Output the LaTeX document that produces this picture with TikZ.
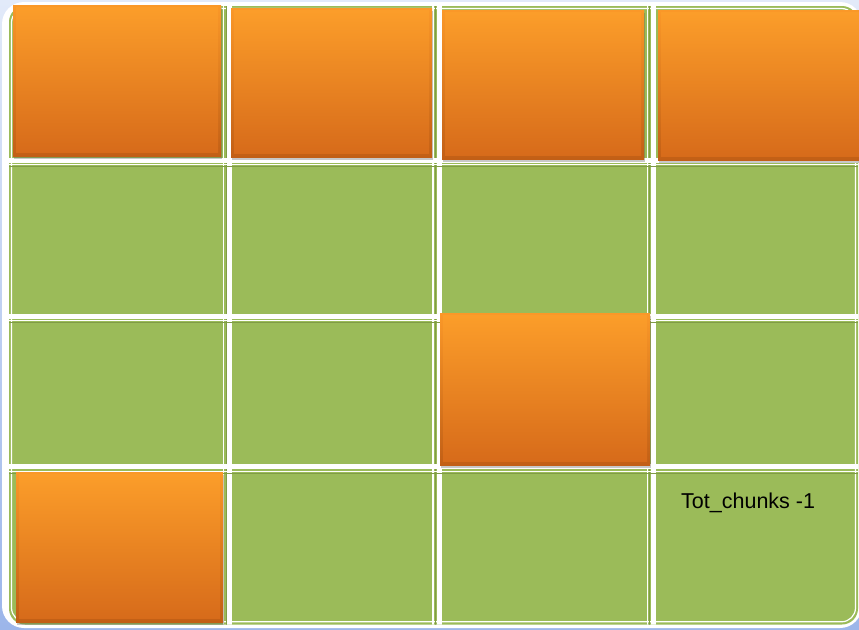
\documentclass[tikz,border=0pt]{standalone}
\usepackage{fontspec}
\newfontfamily\labfont{Liberation Sans}
\usetikzlibrary{shadows}
\definecolor{cgreen}{RGB}{155,187,89}
\definecolor{cgreendark}{RGB}{128,156,70}
\definecolor{bgtop}{RGB}{226,234,249}
\definecolor{bgbot}{RGB}{156,182,234}
\definecolor{otop}{RGB}{252,158,42}
\definecolor{omid}{RGB}{245,128,32}
\definecolor{obot}{RGB}{214,106,26}
\definecolor{eTop}{RGB}{250,152,40}
\definecolor{eBot}{RGB}{194,95,22}
\tikzset{
  obox/.style={inner sep=0pt, outer sep=0pt, top color=eTop, bottom color=eBot,
    drop shadow={shadow xshift=1pt, shadow yshift=-2.5pt, opacity=0.3, fill=black!70},
    path picture={\shade[top color=otop, middle color=omid, bottom color=obot]
      ([shift={(3pt,-2pt)}]path picture bounding box.north west) rectangle
      ([shift={(-3pt,3.5pt)}]path picture bounding box.south east);}},
  gthick/.style={white, line width=5pt},
  gthin/.style={white, line width=1.6pt},
  gdark/.style={cgreendark, line width=1pt},
  lbl/.style={font=\labfont\fontsize{21.5}{25}\selectfont, text=black, inner sep=0pt, anchor=base west},
}
\begin{document}
\begin{tikzpicture}[x=1pt,y=-1pt]
\useasboundingbox (0,0) rectangle (859,629);
\clip (0,0) rectangle (859,629);
% background
\shade[top color=bgtop, bottom color=bgbot] (0,0) rectangle (859,629);
% outer frame
\fill[white, rounded corners=22pt] (2,2) rectangle (862,628);
\fill[cgreen, rounded corners=16pt] (9,6) rectangle (858,624.5);
\draw[white, line width=1.2pt, rounded corners=14pt] (11.5,8.5) rectangle (855.5,621.8);
% grid
\begin{scope}
\clip[rounded corners=16pt] (9,6) rectangle (858,624.5);
% vertical lines
\foreach \xa/\xb in {223.5/229.5, 433/439.5, 647.5/653}{
  \draw[gdark] ({(\xa+\xb)/2-0.5},0) -- ({(\xa+\xb)/2-0.5},629);
  \draw[gthin] (\xa,0) -- (\xa,629);
  \draw[gthick] (\xb,0) -- (\xb,629);
}
% horizontal lines
\foreach \ya/\yb in {160/164.5, 316/320.5, 466/471.5}{
  \draw[gdark] (0,{\yb+1.5}) -- (870,{\yb+1.5});
  \draw[gthick] (0,\ya) -- (870,\ya);
  \draw[gthin] (0,\yb) -- (870,\yb);
}
\end{scope}
% orange boxes
\node[obox, minimum width=208pt, minimum height=151pt] (a1) at (117,80.5) {};
\node[obox, minimum width=201pt, minimum height=149pt] (a2) at (331.5,82.5) {};
\node[obox, minimum width=202pt, minimum height=149pt] (a3) at (543,84.5) {};
\node[obox, minimum width=204pt, minimum height=150pt] (a4) at (760,85) {};
\node[obox, minimum width=210pt, minimum height=152pt] (c3) at (545,389) {};
\node[obox, minimum width=207pt, minimum height=150pt] (d1) at (119.5,547) {};
% label
\node[lbl] (tot) at (681,508.3) {Tot\_chunks -1};
\end{tikzpicture}
\end{document}
